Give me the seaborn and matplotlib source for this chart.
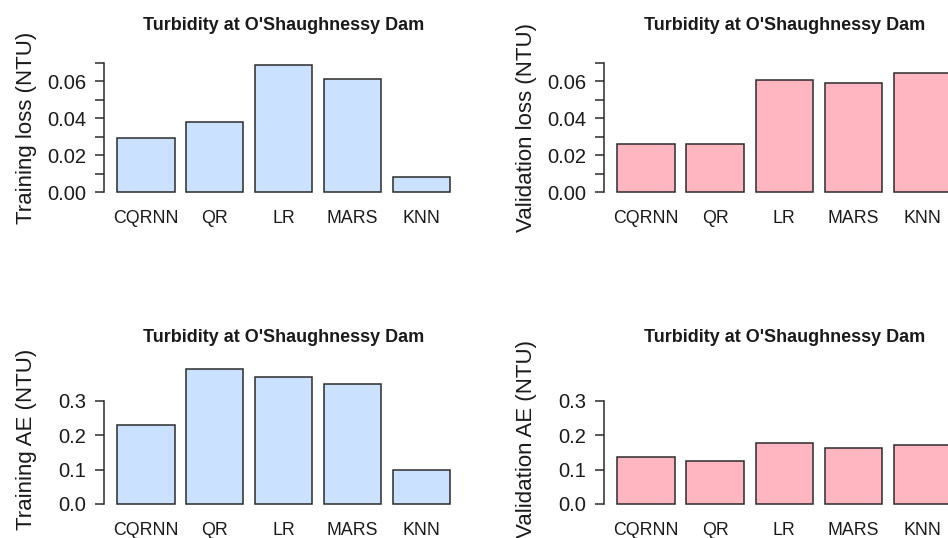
import matplotlib
matplotlib.use("Agg")
import matplotlib.pyplot as plt
import seaborn as sns
import pandas as pd

# ---- data ----
models = ["CQRNN", "QR", "LR", "MARS", "KNN"]
train_loss = [0.0295, 0.0378, 0.0688, 0.0611, 0.0081]
valid_loss = [0.0259, 0.0261, 0.0605, 0.0589, 0.0643]
train_ae = [0.229, 0.392, 0.370, 0.3475, 0.0997]
valid_ae = [0.1356, 0.1249, 0.176, 0.1617, 0.172]
title = "Turbidity at O'Shaughnessy Dam"

loss_ticks = [0.00, 0.01, 0.02, 0.03, 0.04, 0.05, 0.06, 0.07]
loss_labeled = [0.00, 0.02, 0.04, 0.06]
ae_ticks = [0.0, 0.1, 0.2, 0.3]

blue = "#CAE1FF"
pink = "#FFB6C1"

sns.set_theme(style="white")
plt.rcParams["font.family"] = ["Liberation Sans", "DejaVu Sans"]

W, H = 948, 538
fig = plt.figure(figsize=(W / 100, H / 100), dpi=100)
fig.patch.set_facecolor("white")


def px_rect(left, right, top, bottom):
    return [left / W, 1 - bottom / H, (right - left) / W, (bottom - top) / H]


panels = [
    (px_rect(103.9, 463.4, 57.6, 197.5), train_loss, blue, "Training loss (NTU)",
     (-0.0028, 0.0728), loss_ticks, loss_labeled, "{:.2f}"),
    (px_rect(603.9, 964.7, 57.6, 197.5), valid_loss, pink, "Validation loss (NTU)",
     (-0.0028, 0.0728), loss_ticks, loss_labeled, "{:.2f}"),
    (px_rect(103.9, 463.4, 369.3, 509.2), train_ae, blue, "Training AE (NTU)",
     (-0.0151, 0.391), ae_ticks, ae_ticks, "{:.1f}"),
    (px_rect(603.9, 964.7, 369.3, 509.2), valid_ae, pink, "Validation AE (NTU)",
     (-0.0151, 0.391), ae_ticks, ae_ticks, "{:.1f}"),
]

for rect, vals, col, ylab, ylim, ticks, labeled, fmt in panels:
    ax = fig.add_axes(rect)
    df = pd.DataFrame({"model": models, "value": vals})
    sns.barplot(data=df, x="model", y="value", ax=ax, color=col, saturation=1,
                width=1 / 1.2, edgecolor="#2b2b2b", linewidth=1.1)
    for p in ax.patches:
        p.set_clip_on(False)
    ax.set_xlim(-0.61, 4.61)
    ax.set_ylim(*ylim)
    ax.set_facecolor("none")
    for s in ["top", "right", "bottom"]:
        ax.spines[s].set_visible(False)
    ax.spines["left"].set_bounds(ticks[0], ticks[-1])
    ax.spines["left"].set_color("#2b2b2b")
    ax.spines["left"].set_linewidth(1.1)
    ax.set_yticks(ticks, minor=True)
    ax.set_yticks(labeled)
    ax.set_yticklabels([fmt.format(v) for v in labeled])
    ax.tick_params(axis="y", which="both", left=True, length=6.5, width=1.1,
                   color="#2b2b2b", labelsize=14.5, pad=6, labelcolor="#1a1a1a")
    ax.tick_params(axis="x", length=0, labelsize=12.8, pad=9, labelcolor="#1a1a1a")
    ax.set_xlabel("")
    ax.set_ylabel(ylab, fontsize=16, color="#1a1a1a")
    ax.yaxis.set_label_coords(-0.186, 0.5)
    ax.text(0.5, 1.23, title, transform=ax.transAxes, ha="center", va="center",
            fontsize=13, fontweight="bold", color="#1a1a1a")

fig.savefig("out.png", dpi=100, facecolor="white")
